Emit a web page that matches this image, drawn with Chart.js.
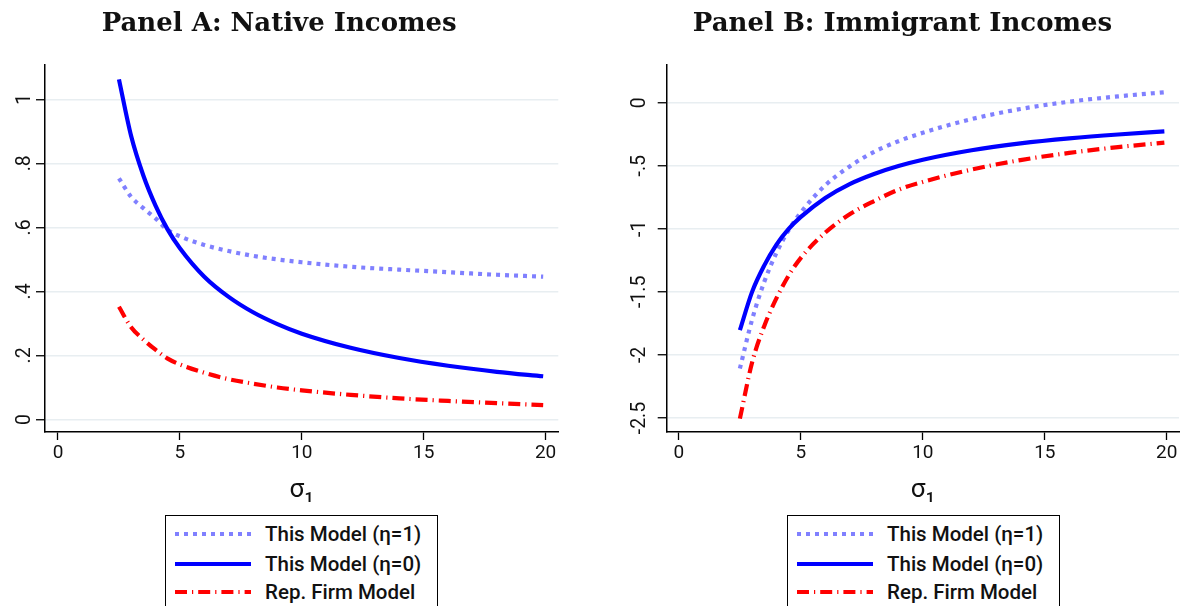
<!DOCTYPE html>
<html>
<head>
<meta charset="utf-8">
<script src="https://cdn.jsdelivr.net/npm/chart.js@4.4.1/dist/chart.umd.min.js"></script>
<style>
  html, body { margin: 0; padding: 0; background: #fff; }
  body { width: 1180px; height: 606px; position: relative; overflow: hidden; font-family: Roboto, "Liberation Sans", sans-serif; }
  .wrap { position: absolute; top: 0; }
  .legend { position: absolute; top: 515px; border: 1.3px solid #000; background: #fff; height: 110px; box-sizing: border-box; }
  .row { position: absolute; left: 0; height: 28px; display: flex; align-items: center; }
  .row svg { margin-left: 9px; }
  .row span { margin-left: 14px; font-size: 20.5px; font-weight: 500; color: #111; white-space: nowrap; }
</style>
</head>
<body>
<div class="wrap" id="wa" style="left:0px;width:566px;height:512px;"><canvas id="ca"></canvas></div>
<div class="wrap" id="wb" style="left:626px;width:554px;height:512px;"><canvas id="cb"></canvas></div>
<div class="legend" id="la" style="left:165px;width:273px;"></div>
<div class="legend" id="lb" style="left:787px;width:273px;"></div>
<script>
// ---- data ----
const sigmaValues = [2.5, 3, 3.5, 4, 4.5, 5, 6, 7, 8, 9, 10, 12, 14, 16, 18, 19.9];

const nativeEta1 = [0.753, 0.695, 0.660, 0.628, 0.592, 0.572, 0.545, 0.526, 0.511, 0.500, 0.491, 0.477, 0.468, 0.460, 0.452, 0.446];
const nativeEta0 = [1.062, 0.885, 0.762, 0.668, 0.593, 0.535, 0.446, 0.383, 0.335, 0.298, 0.268, 0.224, 0.192, 0.168, 0.149, 0.135];
const nativeRep  = [0.352, 0.288, 0.250, 0.218, 0.190, 0.172, 0.146, 0.126, 0.112, 0.100, 0.091, 0.077, 0.066, 0.058, 0.051, 0.045];

const immEta1 = [-2.108, -1.72, -1.42, -1.19, -1.01, -0.87, -0.655, -0.505, -0.39, -0.305, -0.238, -0.13, -0.05, 0.008, 0.05, 0.083];
const immEta0 = [-1.804, -1.50, -1.29, -1.125, -1.0, -0.905, -0.755, -0.645, -0.565, -0.502, -0.452, -0.377, -0.323, -0.283, -0.252, -0.228];
const immRep  = [-2.505, -2.06, -1.77, -1.55, -1.37, -1.23, -1.03, -0.885, -0.78, -0.69, -0.628, -0.53, -0.455, -0.398, -0.352, -0.317];

const xTicks = [0, 5, 10, 15, 20];
const xTickLabels = ['0', '5', '10', '15', '20'];
const yTicksA = [0, 0.2, 0.4, 0.6, 0.8, 1];
const yTickLabelsA = ['0', '.2', '.4', '.6', '.8', '1'];
const yTicksB = [-2.5, -2, -1.5, -1, -0.5, 0];
const yTickLabelsB = ['-2.5', '-2', '-1.5', '-1', '-.5', '0'];

const seriesNames = ['This Model (\u03B7=1)', 'This Model (\u03B7=0)', 'Rep. Firm Model'];
const panelTitles = ['Panel A: Native Incomes', 'Panel B: Immigrant Incomes'];
const xAxisTitle = '\u03C3\u2081';

// ---- styles ----
const styles = [
  { color: '#8080ff', dash: [4, 5], width: 4.2 },
  { color: '#0000ff', dash: [], width: 4.2 },
  { color: '#ff0000', dash: [12, 5, 1.2, 5], width: 4.2 }
];

function pts(vals) { return sigmaValues.map((x, i) => ({ x: x, y: vals[i] })); }

function makeChart(id, title, series, yTicks, yLabels, yMin, yMax, yWidth, yPad, xMin, xMax, padRight) {
  const ds = series.map((vals, i) => ({
    label: seriesNames[i],
    data: pts(vals),
    borderColor: styles[i].color,
    borderDash: styles[i].dash,
    borderWidth: styles[i].width,
    borderCapStyle: 'butt',
    pointRadius: 0,
    fill: false,
    cubicInterpolationMode: 'monotone',
    order: i === 1 ? 0 : (i === 0 ? 1 : 2)
  }));
  return new Chart(document.getElementById(id), {
    type: 'line',
    data: { datasets: ds },
    options: {
      responsive: true,
      maintainAspectRatio: false,
      animation: false,
      events: [],
      layout: { padding: { left: 0, right: padRight, top: 0, bottom: 0 } },
      plugins: {
        legend: { display: false },
        tooltip: { enabled: false },
        title: {
          display: true,
          text: title,
          color: '#111',
          font: { family: '"DejaVu Serif", serif', weight: 'bold', size: 26, lineHeight: 1.2 },
          padding: { top: 9, bottom: 24.8 }
        }
      },
      scales: {
        x: {
          type: 'linear',
          min: xMin, max: xMax,
          afterBuildTicks: s => { s.ticks = xTicks.map(v => ({ value: v })); },
          afterFit: s => { s.height = 80; },
          ticks: {
            color: '#111',
            font: { family: 'Roboto', size: 19 },
            padding: 2,
            maxRotation: 0, minRotation: 0,
            callback: (v) => { const k = xTicks.indexOf(v); return k >= 0 ? xTickLabels[k] : ''; }
          },
          grid: { drawOnChartArea: false, color: '#000', tickColor: '#000', tickLength: 8, tickWidth: 1.3 },
          border: { color: '#000', width: 1.5 },
          title: {
            display: true, text: xAxisTitle, color: '#111',
            font: { family: 'Roboto', size: 26, lineHeight: 1.2 },
            padding: { top: 0, bottom: 6 }
          }
        },
        y: {
          type: 'linear',
          min: yMin, max: yMax,
          afterBuildTicks: s => { s.ticks = yTicks.map(v => ({ value: v })); },
          afterFit: s => { s.width = yWidth; },
          ticks: {
            color: '#111',
            font: { family: 'Roboto', size: 19.5 },
            padding: yPad,
            minRotation: 90, maxRotation: 90,
            crossAlign: 'center',
            callback: (v) => { const k = yTicks.findIndex(t => Math.abs(t - v) < 1e-9); return k >= 0 ? yLabels[k] : ''; }
          },
          grid: { color: '#e8eef1', lineWidth: 1.5, tickColor: '#000', tickLength: 9, tickWidth: 1.3 },
          border: { color: '#000', width: 1.5 }
        }
      }
    }
  });
}

makeChart('ca', panelTitles[0], [nativeEta1, nativeEta0, nativeRep], yTicksA, yTickLabelsA, -0.039, 1.107, 45, 3, -0.533, 20.52, 7.7);
makeChart('cb', panelTitles[1], [immEta1, immEta0, immRep], yTicksB, yTickLabelsB, -2.611, 0.299, 40.7, 1, -0.5, 20.5, 1);

// ---- legends (HTML, real text) ----
function buildLegend(id) {
  const el = document.getElementById(id);
  const tops = [4, 33.5, 62];
  seriesNames.forEach((name, i) => {
    const row = document.createElement('div');
    row.className = 'row';
    row.style.top = tops[i] + 'px';
    const st = styles[i];
    const svg = '<svg width="76" height="10"><line x1="0" y1="5" x2="76" y2="5" stroke="' + st.color +
      '" stroke-width="' + st.width + '" stroke-dasharray="' + (st.dash.length ? st.dash.join(' ') : 'none') + '"/></svg>';
    row.innerHTML = svg + '<span>' + name + '</span>';
    el.appendChild(row);
  });
}
buildLegend('la');
buildLegend('lb');
</script>
</body>
</html>
